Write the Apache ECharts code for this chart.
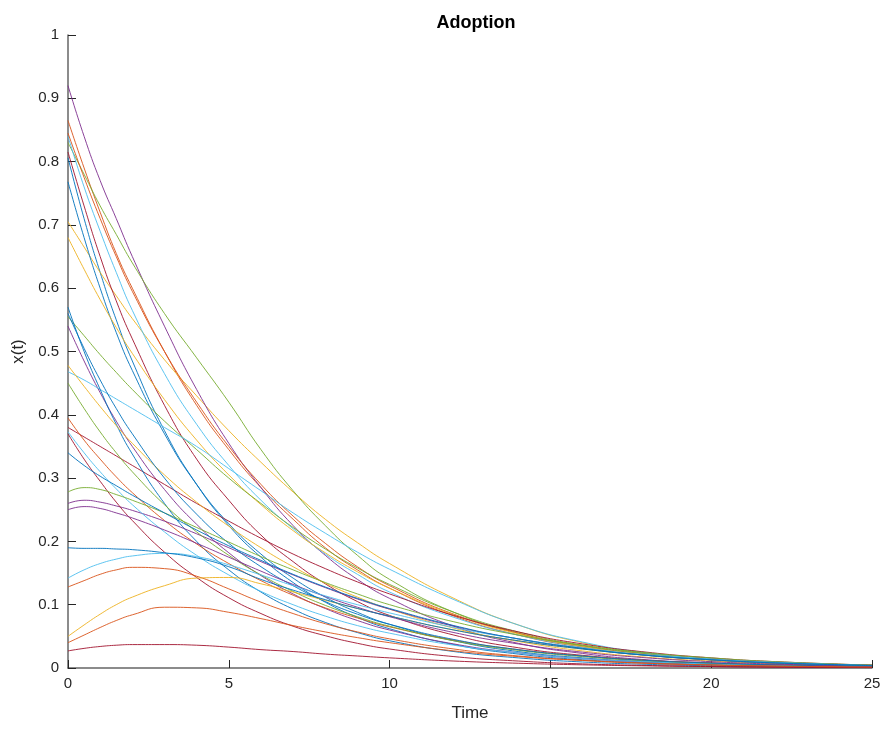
<!DOCTYPE html>
<html>
<head>
<meta charset="utf-8">
<script src="https://cdn.jsdelivr.net/npm/echarts@6/dist/echarts.min.js"></script>
<style>
  html, body { margin: 0; padding: 0; background: #fff; }
  #chart { width: 890px; height: 729px; }
</style>
</head>
<body>
<div id="chart"></div>
<script>
// Sample times shared by every trajectory
const times = [0, 0.5, 1, 1.5, 2, 3, 4, 5, 6, 7, 8, 9, 10, 12, 14, 16, 18, 20, 22, 25];

// Trajectories x(t), one array per run
const runPurpleA = [0.92, 0.84, 0.77, 0.71, 0.65, 0.54, 0.44, 0.355, 0.285, 0.225, 0.178, 0.14, 0.11, 0.066, 0.039, 0.023, 0.013, 0.008, 0.0045, 0.002];
const runGreenB = [0.83, 0.78, 0.73, 0.685, 0.64, 0.56, 0.49, 0.42, 0.345, 0.28, 0.225, 0.178, 0.14, 0.088, 0.055, 0.034, 0.021, 0.013, 0.008, 0.004];
const runOrangeC = [0.865, 0.79, 0.72, 0.655, 0.6, 0.5, 0.415, 0.345, 0.285, 0.235, 0.19, 0.155, 0.126, 0.082, 0.052, 0.033, 0.021, 0.013, 0.008, 0.004];
const runLightBlueD = [0.84, 0.76, 0.69, 0.625, 0.565, 0.465, 0.385, 0.32, 0.265, 0.22, 0.18, 0.148, 0.12, 0.08, 0.052, 0.034, 0.022, 0.014, 0.009, 0.004];
const runRedE = [0.815, 0.73, 0.65, 0.58, 0.52, 0.415, 0.33, 0.265, 0.21, 0.168, 0.133, 0.105, 0.083, 0.052, 0.032, 0.02, 0.012, 0.0075, 0.0045, 0.002];
const runBlueF = [0.806, 0.71, 0.625, 0.55, 0.485, 0.375, 0.29, 0.225, 0.175, 0.135, 0.104, 0.08, 0.062, 0.037, 0.022, 0.013, 0.008, 0.0048, 0.0028, 0.0013];
const runBlueG = [0.768, 0.68, 0.6, 0.53, 0.47, 0.37, 0.29, 0.228, 0.18, 0.142, 0.112, 0.088, 0.069, 0.043, 0.026, 0.016, 0.0098, 0.006, 0.0036, 0.0017];
const runOrangeH = [0.845, 0.775, 0.71, 0.65, 0.595, 0.5, 0.42, 0.35, 0.29, 0.24, 0.197, 0.16, 0.13, 0.085, 0.055, 0.035, 0.022, 0.014, 0.0085, 0.0045];
const runYellowI = [0.705, 0.665, 0.625, 0.588, 0.552, 0.487, 0.43, 0.375, 0.325, 0.278, 0.235, 0.198, 0.165, 0.11, 0.068, 0.04, 0.023, 0.013, 0.0075, 0.003];
const runYellowJ = [0.68, 0.63, 0.582, 0.538, 0.497, 0.424, 0.36, 0.305, 0.258, 0.217, 0.182, 0.152, 0.126, 0.084, 0.054, 0.034, 0.021, 0.013, 0.008, 0.0035];
const runLightBlueK = [0.468, 0.455, 0.44, 0.425, 0.41, 0.38, 0.35, 0.315, 0.28, 0.245, 0.213, 0.183, 0.156, 0.108, 0.068, 0.041, 0.024, 0.014, 0.008, 0.0035];
const runBlueL = [0.57, 0.5, 0.44, 0.385, 0.338, 0.26, 0.2, 0.155, 0.12, 0.093, 0.072, 0.056, 0.043, 0.026, 0.016, 0.0095, 0.0058, 0.0035, 0.0021, 0.001];
const runBlueM = [0.56, 0.505, 0.455, 0.41, 0.37, 0.3, 0.243, 0.197, 0.16, 0.13, 0.105, 0.085, 0.069, 0.045, 0.029, 0.019, 0.012, 0.0078, 0.005, 0.0025];
const runPurpleN = [0.54, 0.485, 0.435, 0.39, 0.35, 0.282, 0.227, 0.182, 0.146, 0.117, 0.094, 0.075, 0.06, 0.038, 0.024, 0.015, 0.0095, 0.006, 0.0037, 0.0018];
const runGreenO = [0.555, 0.525, 0.495, 0.467, 0.44, 0.39, 0.345, 0.3, 0.26, 0.222, 0.188, 0.158, 0.132, 0.088, 0.057, 0.036, 0.023, 0.0145, 0.009, 0.0045];
const runYellowP = [0.478, 0.445, 0.413, 0.383, 0.355, 0.305, 0.262, 0.224, 0.19, 0.16, 0.134, 0.112, 0.093, 0.063, 0.042, 0.027, 0.017, 0.011, 0.007, 0.0035];
const runGreenQ = [0.45, 0.41, 0.373, 0.34, 0.31, 0.258, 0.215, 0.178, 0.147, 0.121, 0.099, 0.081, 0.066, 0.043, 0.028, 0.018, 0.011, 0.007, 0.0045, 0.002];
const runOrangeR = [0.395, 0.36, 0.33, 0.302, 0.277, 0.233, 0.196, 0.165, 0.138, 0.115, 0.095, 0.079, 0.065, 0.044, 0.029, 0.019, 0.012, 0.008, 0.005, 0.0025];
const runRedS = [0.38, 0.365, 0.35, 0.335, 0.32, 0.29, 0.26, 0.232, 0.205, 0.18, 0.157, 0.136, 0.117, 0.083, 0.057, 0.038, 0.025, 0.016, 0.01, 0.0045];
const runRedS2 = [0.37, 0.33, 0.295, 0.262, 0.233, 0.183, 0.143, 0.111, 0.086, 0.066, 0.051, 0.039, 0.03, 0.018, 0.011, 0.0065, 0.004, 0.0024, 0.0014, 0.0007];
const runLightBlueT = [0.373, 0.34, 0.31, 0.283, 0.258, 0.215, 0.178, 0.147, 0.121, 0.1, 0.082, 0.067, 0.055, 0.036, 0.024, 0.015, 0.0098, 0.0063, 0.004, 0.002];
const runBlueU = [0.34, 0.32, 0.303, 0.288, 0.273, 0.245, 0.218, 0.193, 0.17, 0.148, 0.128, 0.11, 0.094, 0.067, 0.046, 0.031, 0.02, 0.013, 0.008, 0.004];
const runGreenV = [0.278, 0.285, 0.282, 0.274, 0.265, 0.245, 0.222, 0.199, 0.176, 0.155, 0.135, 0.117, 0.1, 0.073, 0.052, 0.036, 0.024, 0.016, 0.01, 0.0045];
const runPurpleW = [0.26, 0.265, 0.262, 0.256, 0.249, 0.232, 0.212, 0.19, 0.168, 0.147, 0.127, 0.109, 0.093, 0.066, 0.046, 0.031, 0.02, 0.013, 0.008, 0.0035];
const runPurpleX = [0.25, 0.255, 0.252, 0.245, 0.237, 0.218, 0.197, 0.175, 0.153, 0.132, 0.113, 0.096, 0.081, 0.056, 0.038, 0.025, 0.016, 0.01, 0.0062, 0.0028];
const runBlueY = [0.19, 0.189, 0.189, 0.188, 0.187, 0.182, 0.174, 0.16, 0.14, 0.123, 0.108, 0.094, 0.082, 0.06, 0.043, 0.03, 0.02, 0.013, 0.008, 0.0037];
const runLightBlueZ = [0.142, 0.155, 0.165, 0.172, 0.177, 0.181, 0.176, 0.163, 0.147, 0.13, 0.114, 0.1, 0.087, 0.064, 0.046, 0.032, 0.021, 0.014, 0.009, 0.004];
const runOrangeAA = [0.128, 0.138, 0.148, 0.155, 0.159, 0.157, 0.145, 0.125, 0.104, 0.086, 0.07, 0.057, 0.046, 0.03, 0.019, 0.012, 0.0075, 0.0047, 0.003, 0.0014];
const runYellowAB = [0.05, 0.068, 0.085, 0.1, 0.112, 0.13, 0.142, 0.143, 0.133, 0.12, 0.107, 0.094, 0.082, 0.06, 0.043, 0.03, 0.02, 0.013, 0.008, 0.0037];
const runOrangeAC = [0.04, 0.052, 0.064, 0.075, 0.084, 0.096, 0.095, 0.088, 0.078, 0.067, 0.057, 0.048, 0.04, 0.027, 0.018, 0.012, 0.0075, 0.0048, 0.003, 0.0015];
const runRedAD = [0.027, 0.031, 0.034, 0.036, 0.037, 0.037, 0.036, 0.033, 0.029, 0.026, 0.022, 0.019, 0.016, 0.011, 0.0075, 0.005, 0.0033, 0.0022, 0.0014, 0.0007];

// Axis tick values
const xTicks = [0, 5, 10, 15, 20, 25];
const yTicks = [0, 0.1, 0.2, 0.3, 0.4, 0.5, 0.6, 0.7, 0.8, 0.9, 1];

// Default MATLAB-style line palette
const C = {
  blue: '#0072BD', orange: '#D95319', yellow: '#EDB120', purple: '#7E2F8E',
  green: '#77AC30', lightblue: '#4DBEEE', red: '#A2142F'
};

const runs = [
  [runBlueF, C.blue], [runOrangeC, C.orange], [runYellowI, C.yellow], [runPurpleA, C.purple],
  [runGreenB, C.green], [runLightBlueD, C.lightblue], [runRedE, C.red],
  [runBlueG, C.blue], [runOrangeH, C.orange], [runYellowJ, C.yellow], [runPurpleN, C.purple],
  [runGreenO, C.green], [runLightBlueK, C.lightblue], [runRedS, C.red],
  [runBlueL, C.blue], [runOrangeR, C.orange], [runYellowP, C.yellow], [runPurpleW, C.purple],
  [runGreenQ, C.green], [runLightBlueT, C.lightblue], [runRedS2, C.red],
  [runBlueM, C.blue], [runOrangeAA, C.orange], [runYellowAB, C.yellow], [runPurpleX, C.purple],
  [runGreenV, C.green], [runLightBlueZ, C.lightblue], [runRedAD, C.red],
  [runBlueU, C.blue], [runOrangeAC, C.orange], [runBlueY, C.blue]
];

const axisColor = '#262626';
const font = 'Liberation Sans, Arial, Helvetica, sans-serif';

const chart = echarts.init(document.getElementById('chart'), null, { renderer: 'canvas' });
chart.setOption({
  backgroundColor: '#ffffff',
  animation: false,
  title: {
    text: 'Adoption',
    left: 471,
    top: 9,
    textAlign: 'center',
    textStyle: { fontFamily: font, fontSize: 18, fontWeight: 'bold', color: '#000' }
  },
  grid: { left: 68, right: 18, top: 35, bottom: 61 },
  xAxis: {
    type: 'value',
    min: xTicks[0], max: xTicks[xTicks.length - 1], interval: 5,
    name: 'Time', nameLocation: 'middle', nameGap: 37,
    nameTextStyle: { fontFamily: font, fontSize: 17, color: axisColor },
    axisLine: { show: true, onZero: false, lineStyle: { color: '#666', width: 1.5 } },
    axisTick: { show: true, inside: true, length: 8, lineStyle: { color: axisColor } },
    axisLabel: { fontFamily: font, fontSize: 15, color: axisColor, margin: 8 },
    splitLine: { show: false }
  },
  yAxis: {
    type: 'value',
    min: yTicks[0], max: yTicks[yTicks.length - 1], interval: 0.1,
    name: 'x(t)', nameLocation: 'middle', nameGap: 40, nameRotate: 90,
    nameTextStyle: { fontFamily: font, fontSize: 17, color: axisColor },
    axisLine: { show: true, onZero: false, lineStyle: { color: '#666', width: 1.5 } },
    axisTick: { show: true, inside: true, length: 8, lineStyle: { color: axisColor } },
    axisLabel: {
      fontFamily: font, fontSize: 15, color: axisColor, margin: 9,
      formatter: v => String(Math.round(v * 10) / 10)
    },
    splitLine: { show: false }
  },
  series: runs.map(([vals, color]) => ({
    type: 'line',
    data: times.map((t, i) => [t, vals[i]]),
    showSymbol: false,
    smooth: 0.5,
    lineStyle: { color: color, width: 1, opacity: 0.9 },
    silent: true
  }))
});
</script>
</body>
</html>
